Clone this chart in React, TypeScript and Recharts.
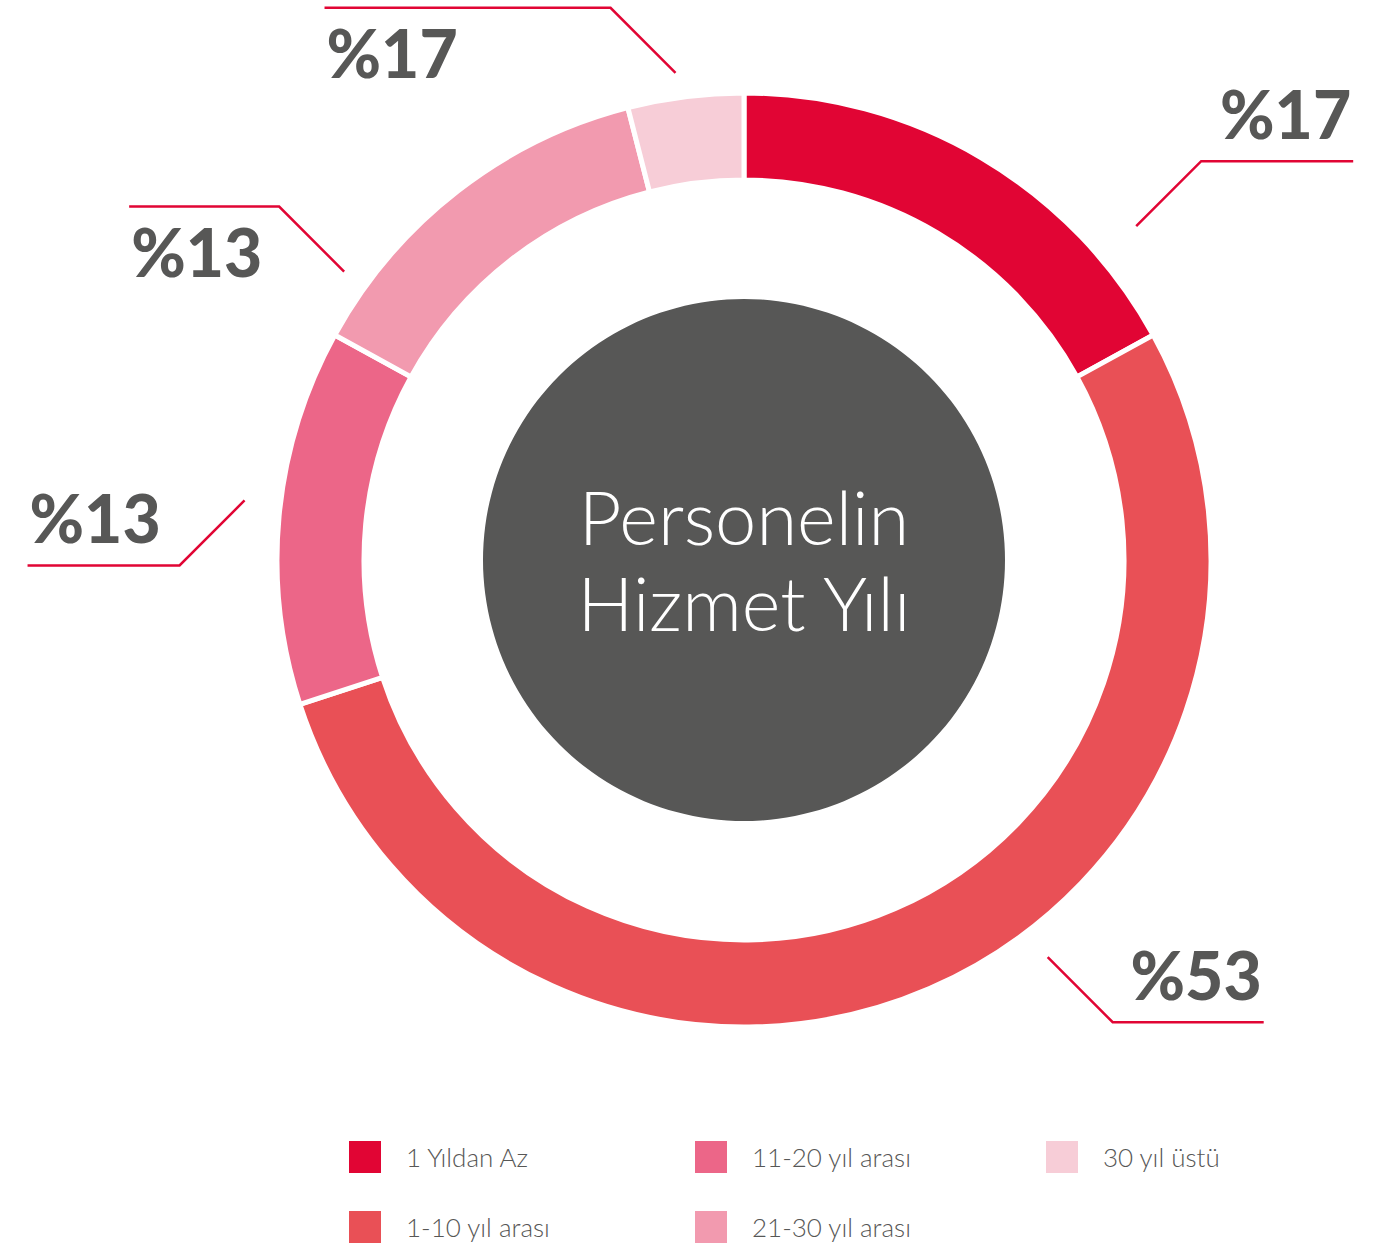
import { PieChart, Pie, Cell, Label, Legend } from 'recharts'

const CATEGORIES = ['1 Yıldan Az', '1-10 yıl arası', '11-20 yıl arası', '21-30 yıl arası', '30 yıl üstü']
const SHARES = [17, 53, 13, 13, 4]
const SHARE_LABELS = ['%17', '%53', '%13', '%13', '%17']
const COLORS = ['#E10534', '#E95056', '#EC6688', '#F29AAF', '#F7CDD7']
const CENTER_TITLE = ['Personelin', 'Hizmet Yılı']

const GRAY = '#575756'
const CX = 744
const CY = 560

// leader line layout per slice: shift from mid angle (clockwise deg), start radius, vertical direction, horizontal run, text below line
const LABEL_LAYOUT = [
  { shift: 19, r: 515, rise: -1, run: 152, below: false },
  { shift: -14, r: 500, rise: 1, run: 151, below: false },
  { shift: 1.4, r: 503, rise: 1, run: 152, below: false },
  { shift: -16.4, r: 493, rise: -1, run: 150, below: true },
  { shift: -0.8, r: 492, rise: -1, run: 286, below: true },
]

const LEGEND_COLS = [349, 695, 1046]

const data = CATEGORIES.map((name, i) => ({ name, value: SHARES[i] }))
const center = [{ name: 'center', value: 1 }]

function ShareLabel(props: any) {
  const { cx, cy, midAngle, index } = props
  const l = LABEL_LAYOUT[index]
  const rad = ((midAngle - l.shift) * Math.PI) / 180
  const x0 = cx + l.r * Math.cos(rad)
  const y0 = cy - l.r * Math.sin(rad)
  const sx = x0 >= cx ? 1 : -1
  const x1 = x0 + sx * 65
  const y1 = y0 + l.rise * 65
  const x2 = x1 + sx * l.run
  return (
    <g>
      <polyline
        points={`${x0},${y0} ${x1},${y1} ${x2},${y1}`}
        fill="none"
        stroke="#E10534"
        strokeWidth={2.5}
      />
      <text
        x={x2 - sx * 2}
        y={l.below ? y1 + 70 : y1 - 22}
        textAnchor={sx > 0 ? 'end' : 'start'}
        fill={GRAY}
        fontFamily="Lato, sans-serif"
        fontWeight={900}
        fontSize={66}
      >
        {SHARE_LABELS[index]}
      </text>
    </g>
  )
}

function CenterTitle(props: any) {
  const { viewBox } = props
  const cx = viewBox?.cx ?? CX
  const cy = viewBox?.cy ?? CY
  return (
    <text textAnchor="middle" fill="#ffffff" fontFamily="Lato, sans-serif" fontWeight={300} fontSize={74}>
      <tspan x={cx} y={cy - 15}>{CENTER_TITLE[0]}</tspan>
      <tspan x={cx} y={cy + 71}>{CENTER_TITLE[1]}</tspan>
    </text>
  )
}

function LegendBox() {
  return (
    <div style={{ position: 'relative', width: 1383, height: 130 }}>
      {CATEGORIES.map((name, i) => {
        const col = Math.floor(i / 2)
        const row = i % 2
        return (
          <div
            key={name}
            style={{
              position: 'absolute',
              left: LEGEND_COLS[col],
              top: row * 70,
              display: 'flex',
              alignItems: 'center',
              height: 32,
            }}
          >
            <span style={{ width: 32, height: 32, background: COLORS[i], display: 'inline-block' }} />
            <span
              style={{
                marginLeft: 25,
                fontFamily: 'Lato, sans-serif',
                fontWeight: 300,
                fontSize: 26,
                color: GRAY,
                whiteSpace: 'nowrap',
              }}
            >
              {name}
            </span>
          </div>
        )
      })}
    </div>
  )
}

export default function App() {
  return (
    <div style={{ position: 'absolute', left: 0, top: 0, width: 1383, height: 1250, background: '#fff' }}>
      <PieChart width={1383} height={1250} margin={{ top: 0, right: 0, bottom: 0, left: 0 }}>
        <Pie
          data={center}
          dataKey="value"
          cx={CX}
          cy={CY}
          innerRadius={0}
          outerRadius={261}
          startAngle={90}
          endAngle={-270}
          stroke="none"
          fill={GRAY}
          isAnimationActive={false}
        >
          <Label position="center" content={<CenterTitle />} />
        </Pie>
        <Pie
          data={data}
          dataKey="value"
          nameKey="name"
          cx={CX}
          cy={CY}
          innerRadius={380}
          outerRadius={467}
          startAngle={90}
          endAngle={-270}
          stroke="#ffffff"
          strokeWidth={5}
          label={ShareLabel}
          labelLine={false}
          isAnimationActive={false}
        >
          {data.map((d, i) => (
            <Cell key={d.name} fill={COLORS[i]} />
          ))}
        </Pie>
        <Legend
          content={() => <LegendBox />}
          wrapperStyle={{ position: 'absolute', left: 0, top: 1141, width: 1383, height: 130 }}
        />
      </PieChart>
    </div>
  )
}
